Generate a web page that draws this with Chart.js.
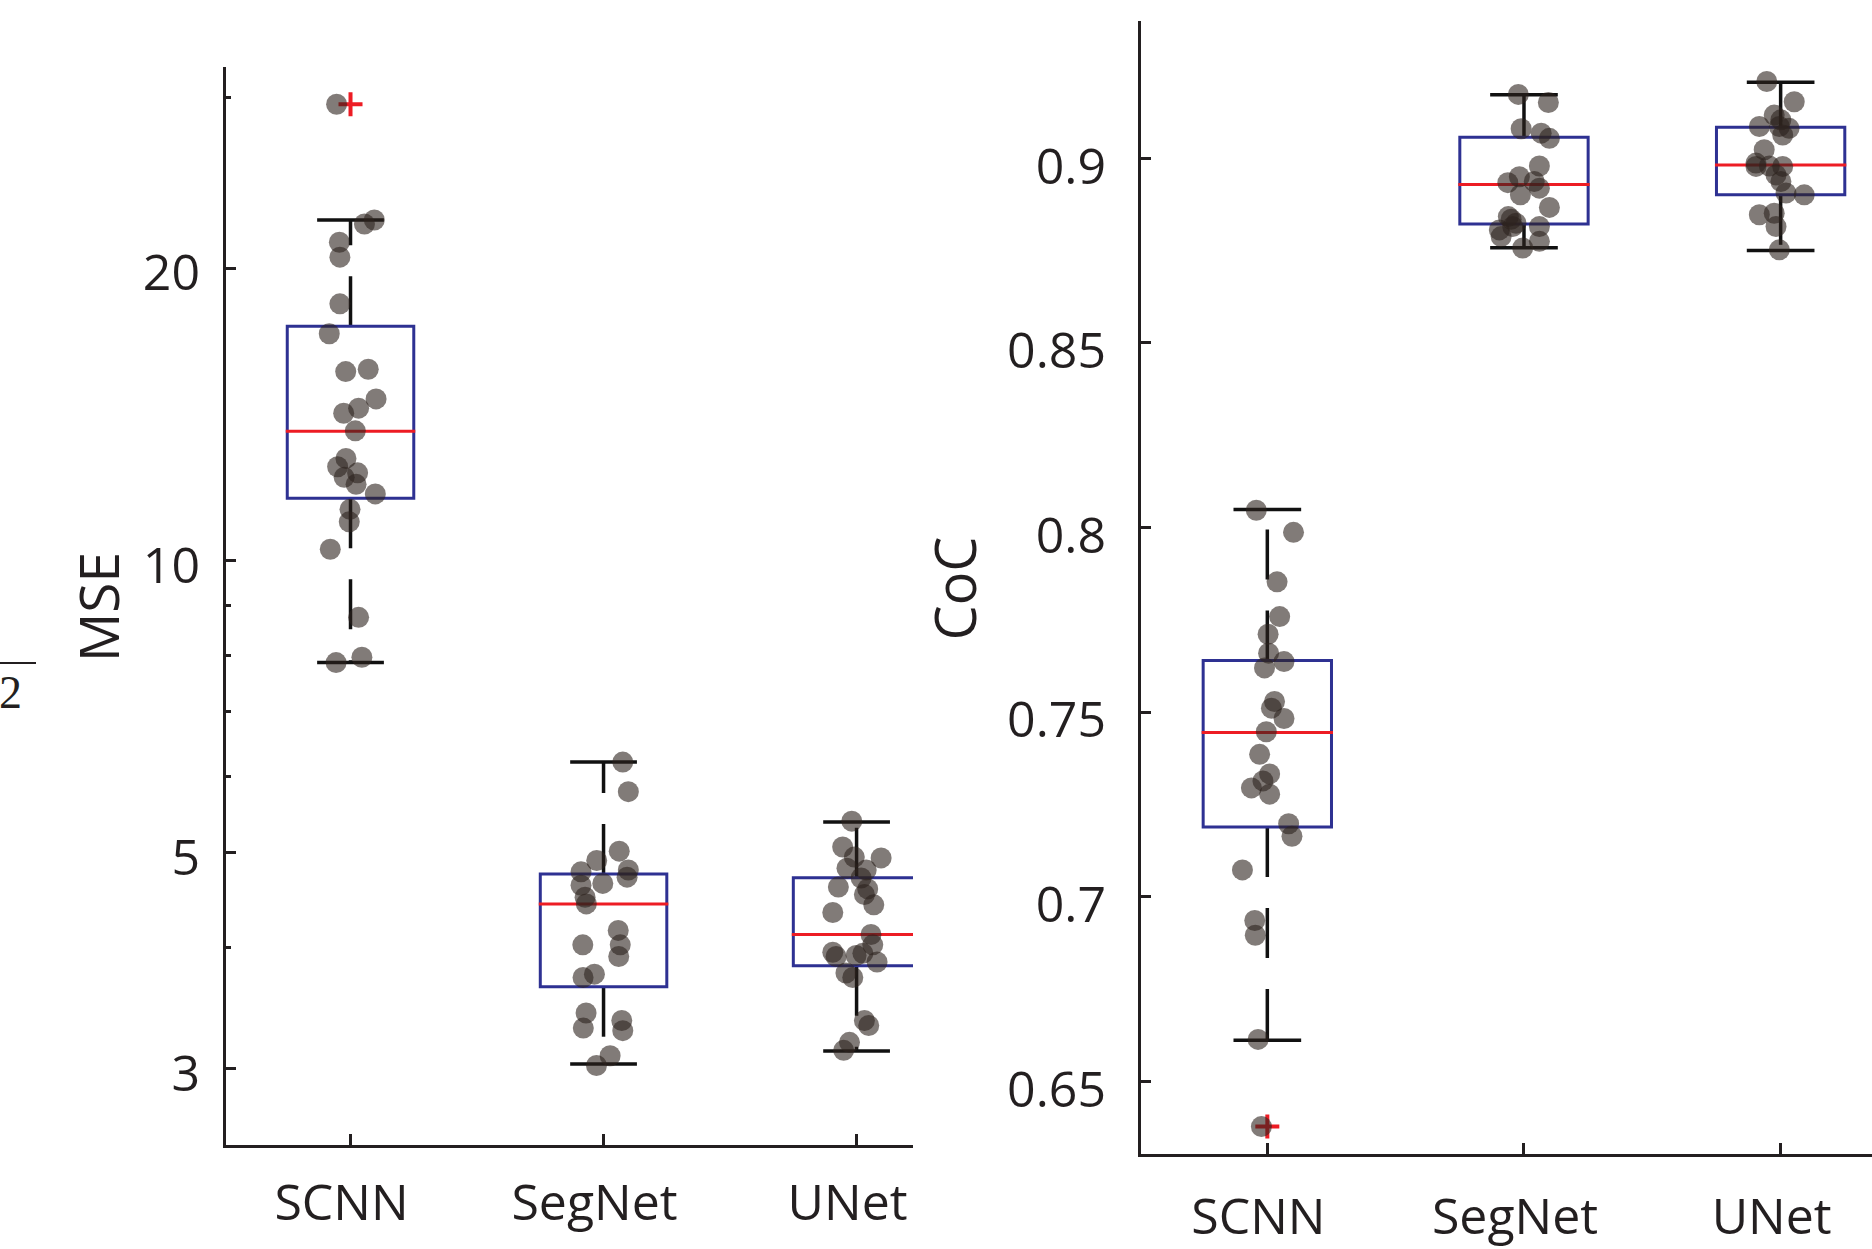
<!DOCTYPE html>
<html lang="en">
<head>
<meta charset="UTF-8">
<title>MSE and CoC box plots</title>
<script src="https://cdn.jsdelivr.net/npm/chart.js@4"></script>
<style>
    body {
        margin: 0;
        background: #ffffff;
        width: 1872px;
        height: 1249px;
        overflow: hidden;
        position: relative;
    }
    canvas {
        position: absolute;
        top: 0;
    }
    #mseChart { left: 0; }
    #cocChart { left: 918px; }
    .frag-bar {
        position: absolute;
        left: 0;
        top: 662px;
        width: 36px;
        height: 2px;
        background: #231f20;
    }
    .frag-num {
        position: absolute;
        left: -1px;
        top: 670px;
        font: 46px 'Liberation Serif', serif;
        line-height: 46px;
        color: #231f20;
    }
</style>
</head>
<body>
<div class="frag-bar"></div>
<div class="frag-num">2</div>
<canvas id="mseChart" width="913" height="1249"></canvas>
<canvas id="cocChart" width="954" height="1249"></canvas>

<script>
// categories
const groups = ['SCNN', 'SegNet', 'UNet'];

// MSE panel (log axis)
const mseTicks = [3, 5, 10, 20];
const mseMinorTicks = [4, 6, 7, 8, 9, 30];
const mseQ1 = [11.59, 3.64, 3.825];
const mseMedian = [13.59, 4.43, 4.12];
const mseQ3 = [17.43, 4.754, 4.713];
const mseWhiskerLow = [7.85, 3.03, 3.125];
const mseWhiskerHigh = [22.42, 6.20, 5.38];
const mseOutliers = [[29.5], [], []];

const mseSCNN = [22.42, 22.21, 21.27, 20.53, 18.38, 17.12, 15.65, 15.74, 14.67, 14.35, 14.18, 13.60, 12.74,
    12.49, 12.31, 12.18, 11.98, 11.71, 11.29, 10.96, 10.27, 8.74, 7.85, 7.95, 29.5];
const mseSCNNJitter = [0.094, 0.055, -0.044, -0.042, -0.042, -0.084, -0.019, 0.070, 0.101, 0.032, -0.027, 0.019, -0.018,
    -0.051, 0.028, -0.025, 0.022, 0.098, -0.002, -0.005, -0.080, 0.032, -0.057, 0.045, -0.055];
const mseSegNet = [6.20, 5.78, 5.02, 4.91, 4.78, 4.80, 4.72, 4.65, 4.63, 4.50, 4.43, 4.16, 4.02, 4.02, 3.91,
    3.75, 3.72, 3.42, 3.30, 3.36, 3.28, 3.09, 3.02];
const mseSegNetJitter = [0.076, 0.098, 0.062, -0.027, -0.089, 0.098, 0.093, -0.003, -0.089, -0.073, -0.068, 0.058, -0.082,
    0.066, 0.060, -0.036, -0.081, -0.069, -0.080, 0.072, 0.076, 0.026, -0.028];
const mseUNet = [5.39, 5.07, 4.94, 4.95, 4.82, 4.80, 4.71, 4.61, 4.59, 4.53, 4.42, 4.34, 4.12, 4.02, 3.95,
    3.91, 3.92, 3.94, 3.86, 3.76, 3.72, 3.36, 3.32, 3.19, 3.13];
const mseUNetJitter = [-0.019, -0.055, 0.097, -0.009, -0.038, 0.038, 0.018, -0.072, 0.044, 0.031, 0.068, -0.094, 0.057,
    0.064, -0.094, -0.081, -0.002, 0.025, 0.081, -0.042, -0.015, 0.031, 0.048, -0.028, -0.051];

// CoC panel (linear axis)
const cocTicks = [0.65, 0.7, 0.75, 0.8, 0.85, 0.9];
const cocQ1 = [0.7189, 0.8822, 0.8901];
const cocMedian = [0.7445, 0.8929, 0.8982];
const cocQ3 = [0.7640, 0.9057, 0.9084];
const cocWhiskerLow = [0.6612, 0.8758, 0.8750];
const cocWhiskerHigh = [0.8049, 0.9172, 0.9206];
const cocOutliers = [[0.6378], [], []];

const cocSCNN = [0.8047, 0.7987, 0.7853, 0.7759, 0.7711, 0.7660, 0.7620, 0.7637, 0.7529, 0.7511, 0.7483, 0.7447,
    0.7386, 0.7333, 0.7314, 0.7295, 0.7278, 0.7198, 0.7164, 0.7073, 0.6936, 0.6896, 0.6614, 0.6378];
const cocSCNNJitter = [-0.043, 0.102, 0.038, 0.048, 0.003, 0.005, -0.011, 0.065, 0.028, 0.016, 0.065, -0.004,
    -0.030, 0.009, -0.017, -0.062, 0.009, 0.083, 0.096, -0.097, -0.049, -0.047, -0.036, -0.023];
const cocSegNet = [0.9173, 0.9151, 0.9080, 0.9068, 0.9054, 0.8979, 0.8950, 0.8934, 0.8937, 0.8919, 0.8901,
    0.8867, 0.8835, 0.8806, 0.8824, 0.8815, 0.8788, 0.8775, 0.8757, 0.8815, 0.8842];
const cocSegNetJitter = [-0.022, 0.095, -0.011, 0.067, 0.099, 0.060, -0.018, -0.063, 0.040, 0.060, -0.014,
    0.099, -0.050, -0.096, -0.031, 0.060, -0.089, 0.060, -0.005, -0.044, -0.061];
const cocUNet = [0.9208, 0.9153, 0.9117, 0.9104, 0.9086, 0.9081, 0.9063, 0.9023, 0.8978, 0.8979, 0.8978,
    0.8955, 0.8937, 0.8906, 0.8901, 0.8847, 0.8851, 0.8815, 0.8752, 0.9086, 0.8987];
const cocUNetJitter = [-0.054, 0.053, -0.025, 0.001, -0.083, 0.033, 0.008, -0.064, -0.096, -0.044, 0.008,
    -0.018, 0.001, 0.021, 0.092, -0.083, -0.025, -0.018, -0.005, -0.005, -0.096];

const INK = '#231f20';
const BLUE = '#2e3192';
const RED = '#ed1c24';
const WHISKER = '#111111';
const DOT = 'rgba(45, 35, 30, 0.6)';

Chart.defaults.font.family = "'Open Sans', sans-serif";
Chart.defaults.color = INK;

function lineSet(points, color, width, dash, order) {
    return {
        data: points,
        showLine: true,
        pointRadius: 0,
        borderColor: color,
        borderWidth: width,
        borderDash: dash || [],
        borderCapStyle: dash ? 'butt' : 'square',
        borderJoinStyle: 'miter',
        order: order
    };
}

function boxDatasets(q1, med, q3, lo, hi, outliers, values, jitter) {
    const sets = [];
    sets.push({
        data: values.flatMap((vals, g) => vals.map((v, j) => ({ x: g + 1 + jitter[g][j], y: v }))),
        pointRadius: 10.5,
        backgroundColor: DOT,
        borderWidth: 0,
        order: 0
    });
    sets.push({
        data: outliers.flatMap((vals, g) => vals.map(v => ({ x: g + 1, y: v }))),
        pointStyle: 'cross',
        pointRadius: 12,
        borderColor: RED,
        borderWidth: 4,
        order: 1
    });
    groups.forEach((name, g) => {
        const c = g + 1;
        sets.push(lineSet([{ x: c - 0.25, y: med[g] }, { x: c + 0.25, y: med[g] }], RED, 3, null, 2));
        sets.push(lineSet([
            { x: c - 0.25, y: q1[g] }, { x: c + 0.25, y: q1[g] }, { x: c + 0.25, y: q3[g] },
            { x: c - 0.25, y: q3[g] }, { x: c - 0.25, y: q1[g] }
        ], BLUE, 3, null, 3));
        sets.push(lineSet([{ x: c, y: q3[g] }, { x: c, y: hi[g] }], WHISKER, 3.5, [50, 31], 4));
        sets.push(lineSet([{ x: c, y: q1[g] }, { x: c, y: lo[g] }], WHISKER, 3.5, [50, 31], 4));
        sets.push(lineSet([{ x: c - 0.125, y: hi[g] }, { x: c + 0.125, y: hi[g] }], WHISKER, 3.5, null, 4));
        sets.push(lineSet([{ x: c - 0.125, y: lo[g] }, { x: c + 0.125, y: lo[g] }], WHISKER, 3.5, null, 4));
    });
    return sets;
}

// short unlabeled ticks on the log axis
const minorTicks = {
    id: 'minorTicks',
    afterDraw(chart, args, opts) {
        if (!opts.values) return;
        const s = chart.scales.y;
        const ctx = chart.ctx;
        ctx.save();
        ctx.strokeStyle = INK;
        ctx.lineWidth = 3;
        opts.values.forEach(v => {
            const py = Math.round(s.getPixelForValue(v)) + 0.5;
            ctx.beginPath();
            ctx.moveTo(s.right, py);
            ctx.lineTo(s.right + 7, py);
            ctx.stroke();
        });
        ctx.restore();
    }
};

function noPad(s) {
    s.paddingLeft = 0;
    s.paddingRight = 0;
    s.paddingTop = 0;
    s.paddingBottom = 0;
}

function xAxis(max, height, padding) {
    return {
        type: 'linear',
        min: 0.5,
        max: max,
        afterBuildTicks: s => { s.ticks = groups.map((g, i) => ({ value: i + 1 })); },
        afterFit: s => { s.height = height; noPad(s); },
        ticks: {
            autoSkip: false,
            maxRotation: 0,
            callback: v => groups[v - 1],
            font: { size: 50 },
            color: INK,
            padding: padding,
            labelOffset: -9
        },
        grid: { drawOnChartArea: false, tickLength: -12, tickWidth: 3, tickColor: INK },
        border: { color: INK, width: 3 }
    };
}

function makeChart(id, datasets, xScale, yScale, top, minor) {
    return new Chart(document.getElementById(id), {
        type: 'scatter',
        data: { datasets: datasets },
        options: {
            responsive: false,
            animation: false,
            devicePixelRatio: 1,
            events: [],
            layout: { autoPadding: false, padding: { left: 0, right: 0, top: top, bottom: 0 } },
            scales: { x: xScale, y: yScale },
            plugins: {
                legend: { display: false },
                tooltip: { enabled: false },
                minorTicks: { values: minor }
            }
        },
        plugins: [minorTicks]
    });
}

makeChart('mseChart',
    boxDatasets(mseQ1, mseMedian, mseQ3, mseWhiskerLow, mseWhiskerHigh, mseOutliers,
        [mseSCNN, mseSegNet, mseUNet], [mseSCNNJitter, mseSegNetJitter, mseUNetJitter]),
    xAxis(3.223, 103, 42),
    {
        type: 'logarithmic',
        min: 2.495,
        max: 32.15,
        afterBuildTicks: s => { s.ticks = mseTicks.map(v => ({ value: v })); },
        afterFit: s => { s.width = 224; noPad(s); },
        ticks: { autoSkip: false, callback: v => String(v), font: { size: 50 }, color: INK, padding: 36, labelOffset: 8 },
        grid: { drawOnChartArea: false, tickLength: -12, tickWidth: 3, tickColor: INK },
        border: { color: INK, width: 3 },
        title: { display: true, text: 'MSE', font: { size: 55 }, color: INK, padding: { top: 70, bottom: 0 } }
    },
    68, mseMinorTicks);

makeChart('cocChart',
    boxDatasets(cocQ1, cocMedian, cocQ3, cocWhiskerLow, cocWhiskerHigh, cocOutliers,
        [cocSCNN, cocSegNet, cocUNet], [cocSCNNJitter, cocSegNetJitter, cocUNetJitter]),
    xAxis(3.356, 94, 47),
    {
        type: 'linear',
        min: 0.6301,
        max: 0.9369,
        afterBuildTicks: s => { s.ticks = cocTicks.map(v => ({ value: v })); },
        afterFit: s => { s.width = 221; noPad(s); },
        ticks: { autoSkip: false, callback: v => String(+v.toFixed(2)), font: { size: 50 }, color: INK, padding: 45, labelOffset: 11 },
        grid: { drawOnChartArea: false, tickLength: -12, tickWidth: 3, tickColor: INK },
        border: { color: INK, width: 3 },
        title: { display: true, text: 'CoC', font: { size: 56 }, color: INK, padding: { top: 8, bottom: 0 } }
    },
    22, null);
</script>
</body>
</html>
